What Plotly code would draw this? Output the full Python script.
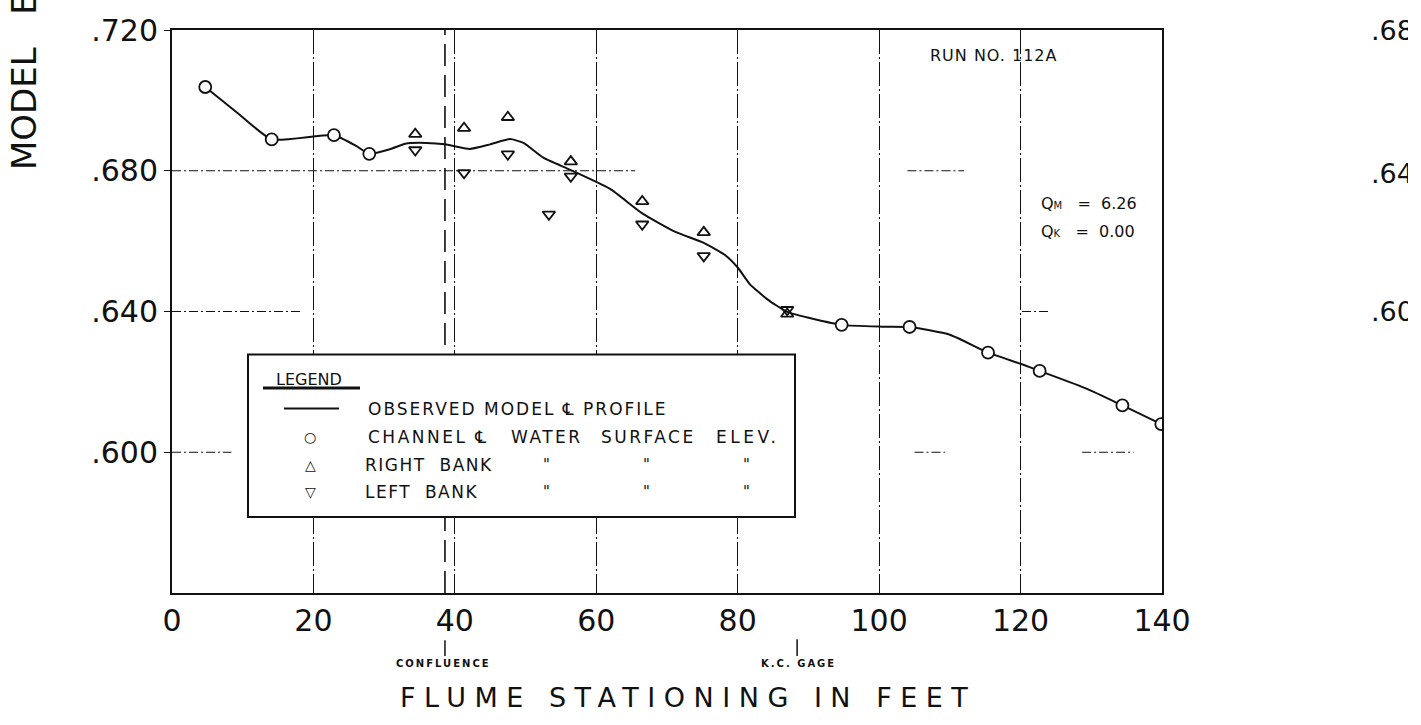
import json
import plotly.graph_objects as go

# ---- Run No. 112A : water-surface profile along the flume ----
# flume stationing in feet, model elevations in feet

channel_x = [4.7, 14.1, 22.9, 27.9, 94.7, 104.3, 115.4, 122.7, 134.4, 139.9]
channel_y = [0.7038, 0.6889, 0.6901, 0.6848, 0.6362, 0.6356, 0.6283, 0.6231, 0.6133, 0.6080]

right_bank_x = [34.4, 41.3, 47.5, 56.4, 66.5, 75.2, 87.0]
right_bank_y = [0.6904, 0.6921, 0.6952, 0.6826, 0.6713, 0.6625, 0.6393]

left_bank_x = [34.4, 41.3, 47.5, 53.3, 56.4, 66.5, 75.2, 87.0]
left_bank_y = [0.6859, 0.6794, 0.6847, 0.6676, 0.6784, 0.6648, 0.6558, 0.6405]

# observed model centerline profile (faired curve)
profile_x = [4.7, 9.4, 14.1, 22.9, 26.1, 27.9, 30.8, 33.0, 36.0, 38.6, 42.1, 45.0, 47.8,
             49.7, 52.5, 56.4, 61.9, 66.5, 71.1, 75.2, 78.1, 80.0, 81.7, 84.1, 87.0,
             94.7, 100.4, 104.3, 110.0, 115.4, 120.2, 122.7, 129.4, 134.4, 139.9]
profile_y = [0.7038, 0.6962, 0.6889, 0.6901, 0.6870, 0.6848, 0.6861, 0.6877, 0.6879,
             0.6875, 0.6862, 0.6875, 0.6890, 0.6879, 0.6837, 0.6802, 0.6749, 0.6679,
             0.6627, 0.6595, 0.6562, 0.6525, 0.6478, 0.6436, 0.6399, 0.6362, 0.6357,
             0.6356, 0.6334, 0.6283, 0.6250, 0.6231, 0.6180, 0.6133, 0.6080]

x_ticks = [0, 20, 40, 60, 80, 100, 120, 140]
x_tick_text = ["0", "20", "40", "60", "80", "100", "120", "140"]
y_ticks = [0.600, 0.640, 0.680, 0.720]
y_tick_text = [".600", ".640", ".680", ".720"]

confluence_x = 38.6
gage_x = 88.4
q_model = "6.26"
q_kaw = "0.00"

# partial drafting rules drawn across the sheet: (elevation, from station, to station)
rule_segments = [
    (0.680, 0.0, 65.5), (0.680, 104.0, 112.0),
    (0.640, 0.0, 18.3), (0.640, 120.2, 124.2),
    (0.600, 0.0, 8.4), (0.600, 105.0, 109.3), (0.600, 128.7, 136.0),
]

INK = "#111111"
FONT = "DejaVu Sans"

W, H = 1408, 725
L, R, T, B = 172, 246, 22, 132
PW, PH = W - L - R, H - T - B


def xp(px):
    """horizontal page pixel -> paper fraction"""
    return (px - L) / PW


def yp(py):
    """vertical page pixel -> paper fraction"""
    return (H - B - py) / PH


fig = go.Figure()

fig.add_trace(go.Scatter(
    x=profile_x, y=profile_y, mode="lines",
    line=dict(color=INK, width=2, shape="spline", smoothing=0.5),
    hoverinfo="skip", showlegend=False))

fig.add_trace(go.Scatter(
    x=right_bank_x, y=right_bank_y, mode="markers",
    marker=dict(symbol="triangle-up-open", size=11, color=INK, line=dict(width=1.8, color=INK)),
    showlegend=False))

fig.add_trace(go.Scatter(
    x=left_bank_x, y=left_bank_y, mode="markers",
    marker=dict(symbol="triangle-down-open", size=11, color=INK, line=dict(width=1.8, color=INK)),
    showlegend=False))

fig.add_trace(go.Scatter(
    x=channel_x, y=channel_y, mode="markers",
    marker=dict(symbol="circle", size=12, color="white", line=dict(width=1.8, color=INK)),
    showlegend=False))

shapes = []
for elev, s0, s1 in rule_segments:
    shapes.append(dict(type="line", xref="x", yref="y", x0=s0, x1=s1, y0=elev, y1=elev,
                       line=dict(color=INK, width=1.1, dash="9px,3px,2px,3px"), layer="below"))

# confluence line
shapes.append(dict(type="line", xref="x", yref="paper", x0=confluence_x, x1=confluence_x,
                   y0=0, y1=1, line=dict(color=INK, width=1.6, dash="22px,9px"), layer="above"))

# legend panel
shapes.append(dict(type="rect", xref="paper", yref="paper",
                   x0=xp(248), x1=xp(795), y0=yp(516), y1=yp(351),
                   fillcolor="white", line=dict(color=INK, width=2), layer="above"))
shapes.append(dict(type="line", xref="paper", yref="paper", x0=xp(263), x1=xp(360),
                   y0=yp(385), y1=yp(385), line=dict(color=INK, width=3), layer="above"))
shapes.append(dict(type="line", xref="paper", yref="paper", x0=xp(284), x1=xp(339),
                   y0=yp(406), y1=yp(406), line=dict(color=INK, width=2), layer="above"))

# station markers below the axis
for sx, top in ((confluence_x, 641), (gage_x, 640)):
    shapes.append(dict(type="line", xref="x", yref="paper", x0=sx, x1=sx,
                       y0=yp(top), y1=yp(657), line=dict(color=INK, width=1.5)))

ann = []
spacing = {}


def text(s, x, y, size, xanchor="left", yanchor="middle", angle=0, track=None):
    ann.append(dict(text=s, x=x, y=y, xref="paper", yref="paper", xanchor=xanchor, yanchor=yanchor,
                    align="left" if xanchor == "left" else "center",
                    textangle=angle, showarrow=False,
                    font=dict(family=FONT, size=size, color=INK)))
    if track:
        plain = s.replace("<b>", "").replace("</b>", "")
        spacing[plain] = track


# axis titles
text("MODEL   ELEVATION   IN   FEET", xp(24), yp(166), 34, xanchor="center", yanchor="bottom", angle=-90)
text("FLUME STATIONING IN FEET", xp(688), yp(699), 27, xanchor="center", track="8.5px")
text("<b>CONFLUENCE</b>", xp(443), yp(665), 10, xanchor="center", track="2px")
text("<b>K.C. GAGE</b>", xp(798), yp(665), 10, xanchor="center", track="2px")

# run info
text("RUN NO. 112A", xp(928), yp(48), 16, track="1px")
text("Q<span style='font-size:10px'>M</span>   =  " + q_model, xp(1039), yp(198), 16)
text("Q<span style='font-size:10px'>K</span>   =  " + q_kaw, xp(1039), yp(226), 16)

# elevation scale of the adjoining sheet
for lbl, yy in ((".680", 23), (".640", 168), (".600", 308)):
    text(lbl, xp(1369), yp(yy), 27)

# legend entries
text("LEGEND", xp(274), yp(376), 16)
rows = [406, 435, 463, 491]
text("○", xp(310), yp(rows[1]), 14, xanchor="center")
text("△", xp(310), yp(rows[2]), 14, xanchor="center")
text("▽", xp(310), yp(rows[3]), 14, xanchor="center")
text("OBSERVED MODEL ℄ PROFILE", xp(366), yp(rows[0]), 17, track="2px")
text("CHANNEL ℄", xp(366), yp(rows[1]), 17, track="2.5px")
text("WATER", xp(509), yp(rows[1]), 17, track="2.5px")
text("SURFACE", xp(599), yp(rows[1]), 17, track="2.5px")
text("ELEV.", xp(714), yp(rows[1]), 17, track="3.5px")
text("RIGHT  BANK", xp(363), yp(rows[2]), 17, track="1.5px")
text("LEFT  BANK", xp(363), yp(rows[3]), 17, track="1.5px")
for r in rows[2:]:
    for cx in (546, 646, 746):
        text("<i>\"</i>", xp(cx), yp(r), 15, xanchor="center")

fig.update_layout(
    width=W, height=H,
    margin=dict(l=L, r=R, t=T, b=B, pad=0),
    paper_bgcolor="white", plot_bgcolor="white",
    shapes=shapes, annotations=ann,
    showlegend=False,
    font=dict(family=FONT, color=INK),
)

fig.update_xaxes(
    range=[0, 140], tickvals=x_ticks, ticktext=x_tick_text,
    showgrid=True, gridcolor=INK, gridwidth=1, griddash="24px,3px,2px,3px",
    zeroline=False, showline=True, linecolor=INK, linewidth=2, mirror=True,
    ticks="", ticklabelstandoff=0,
    tickfont=dict(family=FONT, size=30, color=INK),
)
fig.update_yaxes(
    range=[0.560, 0.720], tickvals=y_ticks, ticktext=y_tick_text,
    showgrid=False, zeroline=False, showline=True, linecolor=INK, linewidth=2, mirror=True,
    ticks="outside", ticklen=6, tickcolor=INK, tickwidth=1,
    tickfont=dict(family=FONT, size=30, color=INK),
)

# hand-lettered look: widen the tracking of the lettered labels
letter_js = (
    "var gd = document.getElementById('{plot_id}');"
    "var tracking = " + json.dumps(spacing) + ";"
    "gd.querySelectorAll('.annotation-text').forEach(function (t) {"
    "  var s = tracking[t.textContent]; if (s) { t.style.letterSpacing = s; }"
    "});"
)

fig.write_html("out.html", post_script=letter_js)
